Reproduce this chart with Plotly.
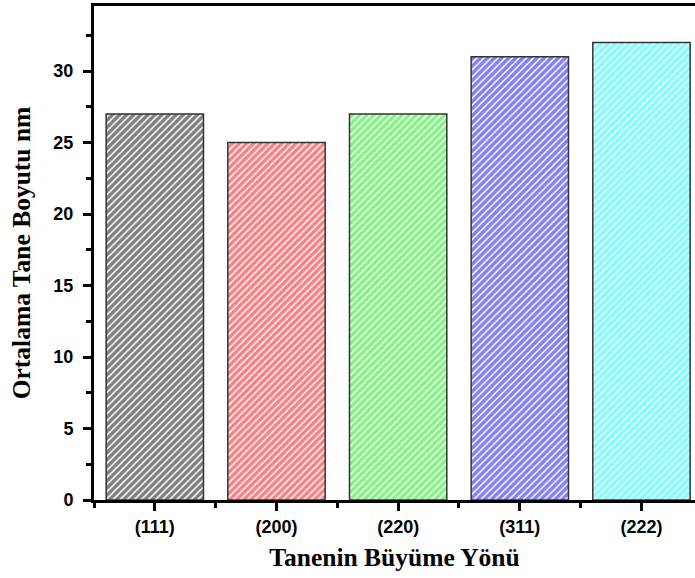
import plotly.graph_objects as go

categories = ["(111)", "(200)", "(220)", "(311)", "(222)"]
sizes_nm = [27, 25, 27, 31, 32]
bar_colors = ["#000000", "#ff0000", "#00ee00", "#0000ff", "#00ffff"]

x_pos = list(range(len(categories)))

fig = go.Figure()
fig.add_trace(go.Bar(
    x=x_pos, y=sizes_nm, width=0.8,
    marker=dict(
        color="white",
        line=dict(color="#333333", width=1.5),
        pattern=dict(shape="/", fgcolor=bar_colors, bgcolor="white",
                     size=5, solidity=0.7, fillmode="overlay"),
    ),
    showlegend=False,
))

tick_font = dict(family="Liberation Sans, Arial", size=18, color="black", weight="bold")
title_font = dict(family="Liberation Serif, Times New Roman", size=25.5, color="black", weight="bold")

fig.update_layout(
    width=695, height=578,
    margin=dict(l=94, r=0, t=6, b=78),
    plot_bgcolor="white", paper_bgcolor="white",
    bargap=0.2,
)
fig.update_xaxes(
    range=[-0.5, 4.44], tickmode="array", tickvals=x_pos, ticktext=categories,
    showline=True, linecolor="black", linewidth=3, mirror=True,
    ticks="outside", ticklen=8, tickwidth=2.5, tickcolor="black",
    tickfont=tick_font, showgrid=False, zeroline=False, automargin=False,
    minor=dict(dtick=1, tick0=0.5, ticks="outside", ticklen=5, tickwidth=2.5, tickcolor="black", showgrid=False),
    title=dict(text="Tanenin Büyüme Yönü", font=title_font, standoff=13),
)
fig.update_yaxes(
    range=[0, 34.55], dtick=5, tick0=0,
    showline=True, linecolor="black", linewidth=3,
    ticks="outside", ticklen=8, tickwidth=2.5, tickcolor="black",
    tickfont=tick_font, showgrid=False, zeroline=False, automargin=False,
    ticklabelstandoff=6,
    minor=dict(dtick=2.5, ticks="outside", ticklen=5, tickwidth=2.5, tickcolor="black", showgrid=False),
    title=dict(text="Ortalama Tane Boyutu nm", font=title_font, standoff=16),
)

fig.write_html(
    "out.html",
    config={"displayModeBar": False},
    post_script="document.body.style.margin='0px';document.body.style.overflow='hidden';",
)
